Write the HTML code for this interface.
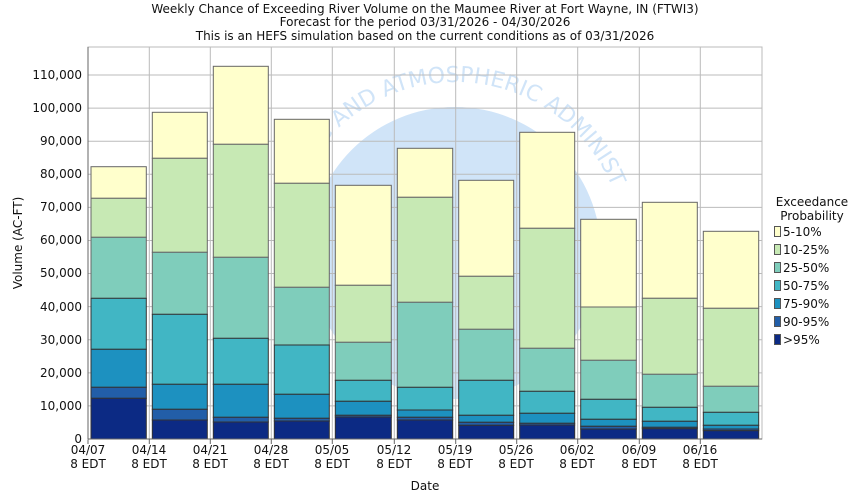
<!DOCTYPE html>
<html><head><meta charset="utf-8"><style>
html,body{margin:0;padding:0;background:#fff;}
svg{display:block;font-family:"DejaVu Sans","Liberation Sans",sans-serif;}
</style></head><body>
<svg id="s" width="850" height="500" viewBox="0 0 850 500" xmlns="http://www.w3.org/2000/svg">
<defs><path id="arc" d="M 285 252 A 170 170 0 0 1 625 252"/></defs>
<rect width="850" height="500" fill="#fff"/>
<g font-size="12" fill="#111" text-anchor="middle">
<text x="425" y="13">Weekly Chance of Exceeding River Volume on the Maumee River at Fort Wayne, IN (FTWI3)</text>
<text x="425" y="26">Forecast for the period 03/31/2026 - 04/30/2026</text>
<text x="425" y="40">This is an HEFS simulation based on the current conditions as of 03/31/2026</text>
</g>
<circle cx="455" cy="253" r="146" fill="#d0e4f8"/>
<text font-size="22" fill="#d0e4f8"><textPath href="#arc" startOffset="6%">OCEANIC AND ATMOSPHERIC ADMINIST</textPath></text>
<g id="grid" stroke="#bbb" stroke-width="1"></g>
<g id="bars"></g>
<rect x="88" y="47" width="674" height="392" fill="none" stroke="#bbb"/>
<line x1="88" y1="47" x2="88" y2="439" stroke="#666"/>
<line x1="88" y1="439" x2="762" y2="439" stroke="#666"/>
<g font-size="12" fill="#111" text-anchor="end">
<text x="82" y="443">0</text><text x="82" y="410">10,000</text><text x="82" y="377">20,000</text><text x="82" y="344">30,000</text><text x="82" y="311">40,000</text><text x="82" y="277">50,000</text><text x="82" y="244">60,000</text><text x="82" y="211">70,000</text><text x="82" y="178">80,000</text><text x="82" y="145">90,000</text><text x="82" y="112">100,000</text><text x="82" y="79">110,000</text>
</g>
<g font-size="12" fill="#111" text-anchor="middle">
<text x="88" y="454">04/07</text><text x="88" y="468">8 EDT</text>
<text x="149" y="454">04/14</text><text x="149" y="468">8 EDT</text>
<text x="210" y="454">04/21</text><text x="210" y="468">8 EDT</text>
<text x="271" y="454">04/28</text><text x="271" y="468">8 EDT</text>
<text x="332" y="454">05/05</text><text x="332" y="468">8 EDT</text>
<text x="394" y="454">05/12</text><text x="394" y="468">8 EDT</text>
<text x="455" y="454">05/19</text><text x="455" y="468">8 EDT</text>
<text x="516" y="454">05/26</text><text x="516" y="468">8 EDT</text>
<text x="577" y="454">06/02</text><text x="577" y="468">8 EDT</text>
<text x="639" y="454">06/09</text><text x="639" y="468">8 EDT</text>
<text x="700" y="454">06/16</text><text x="700" y="468">8 EDT</text>
<text x="425" y="490">Date</text>
<text transform="translate(22,243) rotate(-90)">Volume (AC-FT)</text>
<text x="812" y="206">Exceedance</text>
<text x="812" y="220">Probability</text>
</g>
<g font-size="12" fill="#111" id="leg">
<text x="783" y="236">5-10%</text><text x="783" y="254">10-25%</text><text x="783" y="272">25-50%</text><text x="783" y="290">50-75%</text><text x="783" y="308">75-90%</text><text x="783" y="326">90-95%</text><text x="783" y="344">&gt;95%</text>
</g>
<g id="legsq"></g>
</svg>
<script>
var ns="http://www.w3.org/2000/svg";
function el(p,t,a){var e=document.createElementNS(ns,t);for(var k in a)e.setAttribute(k,a[k]);p.appendChild(e);}
var g=document.getElementById('grid');
for(var i=1;i<=11;i++){var y=439-i*33.09;el(g,'line',{x1:88,x2:762,y1:y,y2:y});}
var xs=[88,149.3,210.3,271.3,332.3,394.3,455.7,516.7,577.7,639.3,700.3,761.7];
for(var i=1;i<11;i++)el(g,'line',{x1:xs[i],x2:xs[i],y1:47,y2:439});
for(var i=0;i<11;i++)el(g,'line',{x1:xs[i],x2:xs[i],y1:439,y2:444,stroke:'#666'});
var cols=['#ffffcc','#c7e9b4','#7fcdbb','#41b6c4','#1d91c0','#225ea8','#0c2a84'];
var B=[[166.7,198.3,237.3,298.3,349.3,387.3,398.3],[112.3,158.3,252.3,314.3,384.3,409.3,420],[66.3,144.3,257.3,338.3,384.3,417.3,422],[119.3,183.3,287.3,345,394.3,418.3,421],[185.3,285.3,342.3,380.3,401.3,415.3,417],[148.3,197.3,302.3,387.3,410,417.3,420],[180.3,276.3,329.3,380.3,415.3,422.3,425.3],[132.3,228.3,348.3,391.3,413.3,423.3,425],[219.3,307,360.3,399.3,419.3,426.3,429],[202.3,298.3,374.3,407.3,421.3,427.3,428.7],[231.3,308.3,386.3,412.3,425.3,429,430.7]];
var bg=document.getElementById('bars');
for(var i=0;i<11;i++){var x0=xs[i]+3,w=xs[i+1]-xs[i]-6;var b=B[i];
for(var j=0;j<7;j++){var y0=b[j],y1=(j<6?b[j+1]:439);
el(bg,'rect',{x:x0,y:y0,width:w,height:Math.max(0.5,y1-y0),fill:cols[j],stroke:(j<3?'#666':'#333'),'stroke-width':1});}}
var lg=document.getElementById('legsq');
for(var j=0;j<7;j++)el(lg,'rect',{x:774.5,y:226.5+j*18,width:6,height:10,fill:cols[j],stroke:'#555'});
</script>
</body></html>
